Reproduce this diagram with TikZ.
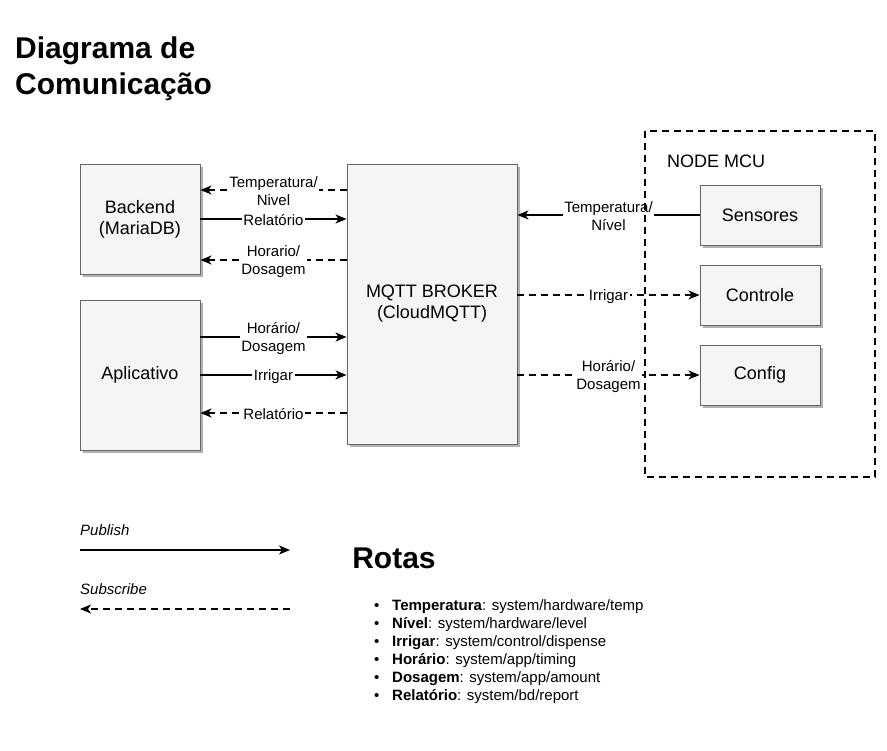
\documentclass[tikz,border=0pt]{standalone}
\usepackage{fontspec}
\setmainfont{Liberation Sans}
\usetikzlibrary{arrows.meta, shadows}
\definecolor{boxfill}{HTML}{F5F5F5}
\definecolor{boxline}{HTML}{666666}

\begin{document}
\begin{tikzpicture}[
  x=1pt, y=-1pt,
  box/.style={draw=boxline, fill=boxfill, line width=0.9pt, align=center,
    font=\fontsize{18}{21}\selectfont, inner sep=0pt,
    drop shadow={shadow xshift=3pt, shadow yshift=-3pt, fill=black!30, opacity=1}},
  pub/.style={-{Stealth[length=11pt, width=9pt, inset=3pt]}, line width=1.5pt},
  sub/.style={pub, dash pattern=on 7pt off 5pt},
  lbl/.style={midway, yshift=-1.5pt, fill=white, inner sep=1.5pt, align=center,
    font=\fontsize{15}{18}\selectfont},
]
\useasboundingbox (0,0) rectangle (887,751);

% titulo
\node[anchor=west, align=left, inner sep=0pt, font=\fontsize{30}{36}\selectfont\bfseries]
  (titulo) at (15,69) {Diagrama de\\Comunicação};

% caixas
\node[box, minimum width=120, minimum height=110] (backend) at (140,219) {Backend\\(MariaDB)};
\node[box, minimum width=120, minimum height=150] (app) at (140,375) {Aplicativo};
\node[box, minimum width=170, minimum height=280] (broker) at (432,304) {MQTT BROKER\\(CloudMQTT)};
\node[box, minimum width=120, minimum height=60] (sensores) at (760,215) {Sensores};
\node[box, minimum width=120, minimum height=60] (controle) at (760,295) {Controle};
\node[box, minimum width=120, minimum height=60] (config) at (760,375) {Config};

% backend <-> broker
\draw[sub] (broker.west |- 0,190) -- (backend.east |- 0,190) node[lbl] {Temperatura/\\Nivel};
\draw[pub] (backend.east |- 0,219) -- (broker.west |- 0,219) node[lbl] {Relatório};
\draw[sub] (broker.west |- 0,260) -- (backend.east |- 0,260) node[lbl] {Horario/\\Dosagem};

% aplicativo <-> broker
\draw[pub] (app.east |- 0,337) -- (broker.west |- 0,337) node[lbl] {Horário/\\Dosagem};
\draw[pub] (app.east |- 0,375) -- (broker.west |- 0,375) node[lbl] {Irrigar};
\draw[sub] (broker.west |- 0,413) -- (app.east |- 0,413) node[lbl] {Relatório};

% node mcu <-> broker
\draw[pub] (sensores.west) -- (broker.east |- sensores.west) node[lbl] {Temperatura/\\Nível};
\draw[sub] (broker.east |- controle.west) -- (controle.west) node[lbl] {Irrigar};
\draw[sub] (broker.east |- config.west) -- (config.west) node[lbl] {Horário/\\Dosagem};

% container NODE MCU
\draw[line width=1.5pt, dash pattern=on 7pt off 5pt] (645,131) rectangle (875,477);
\node[anchor=west, inner sep=0pt, font=\fontsize{18}{21}\selectfont] (mcu) at (667,161) {NODE MCU};

% legenda
\node[anchor=west, inner sep=0pt, font=\fontsize{15}{18}\selectfont\itshape] (publish) at (80,530) {Publish};
\coordinate (p0) at (80,550);
\coordinate (p1) at (290,550);
\draw[pub] (p0) -- (p1);
\node[anchor=west, inner sep=0pt, font=\fontsize{15}{18}\selectfont\itshape] (subscribe) at (80,589) {Subscribe};
\coordinate (s0) at (290,609);
\coordinate (s1) at (80,609);
\draw[sub] (s0) -- (s1);

% rotas
\node[inner sep=0pt, font=\fontsize{30}{36}\selectfont\bfseries] (rotas) at (394,558) {Rotas};
\foreach \k/\v [count=\i] in {Temperatura/{system/hardware/temp}, Nível/{system/hardware/level},
    Irrigar/{system/control/dispense}, Horário/{system/app/timing},
    Dosagem/{system/app/amount}, Relatório/{system/bd/report}}
  \node[anchor=west, inner sep=0pt, font=\fontsize{15}{18}\selectfont]
    (r\i) at (374,589+18*\i) {\makebox[18pt][l]{\textbullet}\textbf{\k}: \v};
\end{tikzpicture}
\end{document}
